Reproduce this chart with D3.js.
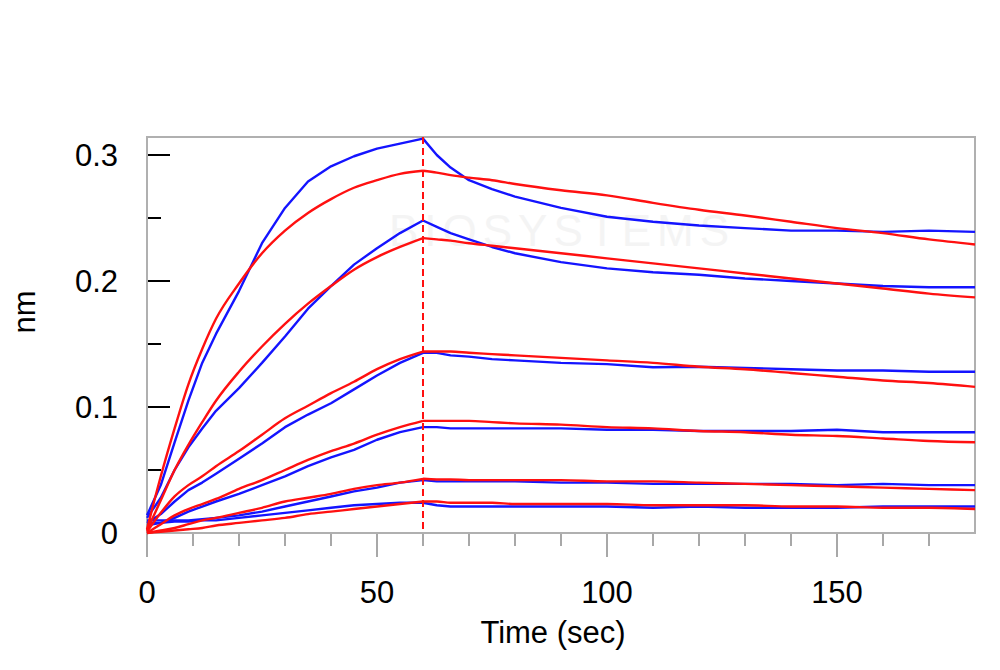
<!DOCTYPE html>
<html>
<head>
<meta charset="utf-8">
<script src="https://cdn.jsdelivr.net/npm/d3@7"></script>
<style>
html,body{margin:0;padding:0;background:#fff;}
svg{display:block;font-family:"Liberation Sans",Arial,sans-serif;}
</style>
</head>
<body>
<svg id="chart" width="1000" height="670"></svg>
<script>
// ---- data ----
const times = [0,3,6,9,12,15,20,25,30,35,40,45,50,55,60,63,66,70,75,80,90,100,110,120,130,140,150,160,170,180];
const stepTime = 60;

const measured1 = [0.014,0.038,0.072,0.105,0.135,0.158,0.192,0.230,0.258,0.279,0.291,0.299,0.305,0.309,0.313,0.300,0.290,0.280,0.273,0.267,0.258,0.251,0.247,0.244,0.242,0.240,0.240,0.239,0.240,0.239];
const measured2 = [0.012,0.028,0.050,0.068,0.083,0.097,0.115,0.135,0.156,0.178,0.196,0.213,0.226,0.238,0.248,0.243,0.238,0.233,0.227,0.222,0.215,0.210,0.207,0.205,0.202,0.200,0.198,0.196,0.195,0.195];
const measured3 = [0.008,0.015,0.025,0.034,0.040,0.047,0.059,0.071,0.084,0.094,0.103,0.114,0.125,0.135,0.143,0.143,0.141,0.140,0.138,0.137,0.135,0.134,0.1315,0.132,0.131,0.130,0.129,0.129,0.128,0.128];
const measured4 = [0.006,0.008,0.012,0.017,0.021,0.025,0.031,0.038,0.045,0.053,0.060,0.066,0.074,0.080,0.084,0.084,0.083,0.083,0.083,0.083,0.083,0.082,0.082,0.081,0.081,0.081,0.082,0.080,0.080,0.080];
const measured5 = [0.010,0.010,0.010,0.010,0.011,0.012,0.014,0.017,0.021,0.025,0.029,0.033,0.036,0.040,0.042,0.041,0.041,0.041,0.041,0.041,0.040,0.040,0.039,0.039,0.039,0.039,0.038,0.039,0.038,0.038];
const measured6 = [0.008,0.008,0.009,0.009,0.010,0.010,0.012,0.014,0.016,0.018,0.020,0.022,0.023,0.024,0.024,0.022,0.021,0.021,0.021,0.021,0.021,0.021,0.020,0.021,0.020,0.020,0.020,0.021,0.021,0.021];

const fit1 = [0.003,0.045,0.083,0.118,0.146,0.170,0.198,0.222,0.240,0.254,0.265,0.274,0.280,0.285,0.2875,0.286,0.284,0.282,0.280,0.277,0.272,0.268,0.262,0.2565,0.252,0.247,0.242,0.238,0.233,0.229];
const fit2 = [0.002,0.026,0.050,0.070,0.088,0.105,0.128,0.148,0.166,0.182,0.196,0.209,0.219,0.227,0.234,0.233,0.232,0.230,0.228,0.226,0.222,0.218,0.214,0.210,0.206,0.202,0.198,0.194,0.190,0.187];
const fit3 = [0.001,0.016,0.029,0.038,0.045,0.053,0.065,0.078,0.091,0.101,0.111,0.120,0.130,0.138,0.144,0.144,0.144,0.143,0.142,0.141,0.139,0.137,0.135,0.132,0.130,0.127,0.124,0.121,0.119,0.116];
const fit4 = [0.000,0.007,0.014,0.019,0.023,0.027,0.035,0.042,0.050,0.058,0.065,0.071,0.078,0.084,0.089,0.089,0.089,0.089,0.088,0.087,0.086,0.084,0.083,0.081,0.080,0.078,0.077,0.075,0.073,0.072];
const fit5 = [0.000,0.002,0.004,0.007,0.010,0.012,0.016,0.020,0.025,0.028,0.031,0.035,0.038,0.040,0.043,0.0425,0.0425,0.042,0.042,0.042,0.042,0.041,0.041,0.040,0.039,0.038,0.037,0.036,0.035,0.034];
const fit6 = [0.000,0.001,0.002,0.003,0.004,0.006,0.008,0.010,0.012,0.015,0.017,0.019,0.021,0.023,0.025,0.025,0.024,0.024,0.024,0.023,0.023,0.023,0.022,0.022,0.022,0.021,0.021,0.020,0.020,0.019];

const measuredSeries = [measured1, measured2, measured3, measured4, measured5, measured6];
const fitSeries = [fit1, fit2, fit3, fit4, fit5, fit6];

const xTickLabels = [0, 50, 100, 150];
const xMinorTicks = [0,10,20,30,40,50,60,70,80,90,100,110,120,130,140,150,160,170];
const yTickLabels = [0, 0.1, 0.2, 0.3];
const yMinorTicks = [0.05, 0.15, 0.25];
const xTitle = "Time (sec)";
const yTitle = "nm";

// ---- layout ----
const plotLeft = 147, plotRight = 975, plotTop = 137, plotBottom = 533;
const svg = d3.select("#chart");

const x = d3.scaleLinear().domain([0, 180]).range([plotLeft, plotRight]);
const y = d3.scaleLinear().domain([0, 0.3]).range([plotBottom, 155]);

// faint watermark
svg.append("text").attr("x", 562).attr("y", 246).attr("text-anchor", "middle")
  .attr("font-size", 44).attr("letter-spacing", 6).attr("fill", "#f4f4f4").text("BIOSYSTEMS");

// x ticks (gray, outside, below)
const gx = svg.append("g");
gx.selectAll("line").data(xMinorTicks).join("line")
  .attr("x1", d => x(d)).attr("x2", d => x(d))
  .attr("y1", plotBottom)
  .attr("y2", d => plotBottom + ((d % 50 === 0) ? 24 : 13))
  .attr("stroke", "#a8a8a8").attr("stroke-width", 2);

// x labels
svg.append("g").selectAll("text").data(xTickLabels).join("text")
  .attr("x", d => x(d)).attr("y", 603)
  .attr("text-anchor", "middle").attr("font-size", 31).attr("fill", "#000")
  .text(d => d);

// y ticks (black, inside)
const yAll = yTickLabels.concat(yMinorTicks);
svg.append("g").selectAll("line").data(yAll).join("line")
  .attr("x1", plotLeft).attr("x2", d => yTickLabels.includes(d) ? plotLeft + 23 : plotLeft + 14)
  .attr("y1", d => y(d)).attr("y2", d => y(d))
  .attr("stroke", "#000").attr("stroke-width", 2);

svg.append("g").selectAll("text").data(yTickLabels).join("text")
  .attr("x", 118).attr("y", d => y(d)).attr("dy", "0.36em")
  .attr("text-anchor", "end").attr("font-size", 31).attr("fill", "#000")
  .text(d => d3.format("~g")(d));

// frame
svg.append("rect").attr("x", plotLeft).attr("y", plotTop)
  .attr("width", plotRight - plotLeft).attr("height", plotBottom - plotTop)
  .attr("fill", "none").attr("stroke", "#b0b0b0").attr("stroke-width", 2);

// titles
svg.append("text").attr("x", 553).attr("y", 643).attr("text-anchor", "middle")
  .attr("font-size", 31).attr("fill", "#000").text(xTitle);
svg.append("text").attr("transform", "translate(35,312) rotate(-90)")
  .attr("text-anchor", "middle").attr("font-size", 31).attr("fill", "#000").text(yTitle);

// data lines
const plot = svg.append("g");
const mLine = d3.line().x((d, i) => x(times[i])).y(d => y(d));
measuredSeries.forEach(s => {
  plot.append("path").datum(s).attr("d", mLine)
    .attr("fill", "none").attr("stroke", "#1414ff").attr("stroke-width", 2.4)
    .attr("stroke-linejoin", "round");
});

const fLine = d3.line().x(d => x(d.t)).y(d => y(d.v)).curve(d3.curveMonotoneX);
fitSeries.forEach(s => {
  const pts = s.map((v, i) => ({t: times[i], v}));
  const assoc = pts.filter(p => p.t <= stepTime);
  const dissoc = pts.filter(p => p.t >= stepTime);
  [assoc, dissoc].forEach(seg => {
    plot.append("path").datum(seg).attr("d", fLine)
      .attr("fill", "none").attr("stroke", "#ff1010").attr("stroke-width", 2.4);
  });
});

// dashed vertical line at the step
svg.append("line").attr("x1", x(stepTime)).attr("x2", x(stepTime))
  .attr("y1", plotTop).attr("y2", plotBottom)
  .attr("stroke", "#ff1010").attr("stroke-width", 2).attr("stroke-dasharray", "7,4");
</script>
</body>
</html>
